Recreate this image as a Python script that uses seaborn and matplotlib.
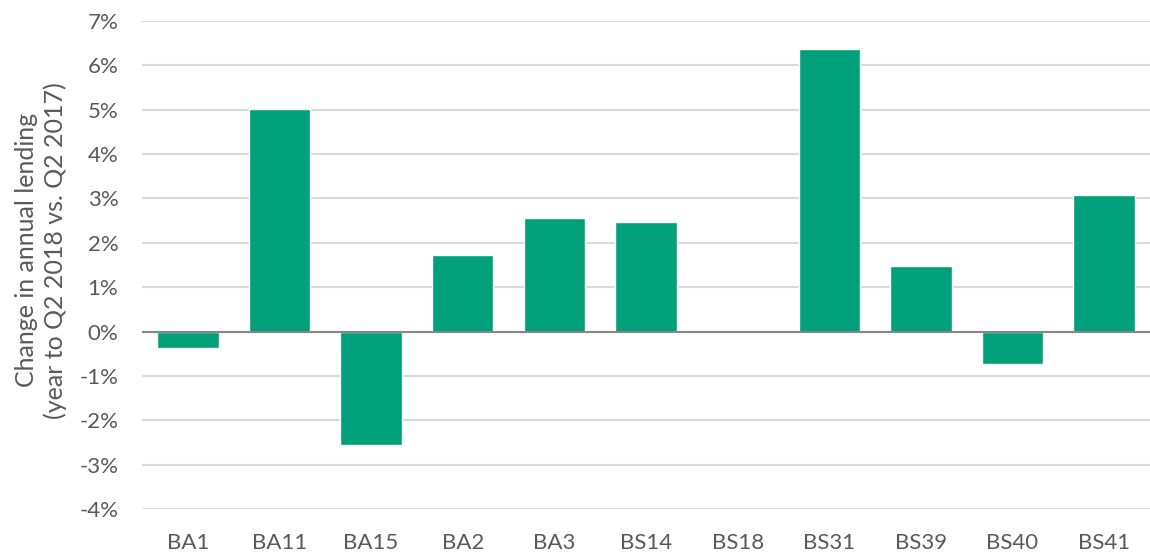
"""
Annual lending change by postcode district
"""
import matplotlib.pyplot as plt
import seaborn as sns
import pandas as pd
from matplotlib.ticker import FuncFormatter

districts = ['BA1', 'BA11', 'BA15', 'BA2', 'BA3', 'BS14', 'BS18', 'BS31', 'BS39', 'BS40', 'BS41']
change_pct = [-0.38, 5.02, -2.56, 1.72, 2.57, 2.48, 0.0, 6.37, 1.47, -0.74, 3.08]
y_ticks = list(range(-4, 8))

df = pd.DataFrame({'district': districts, 'change': change_pct})

sns.set_style('white')
plt.rcParams['font.family'] = ['Lato', 'DejaVu Sans']

fig = plt.figure(figsize=(11.5, 5.54), dpi=100)
ax = fig.add_axes([0.1235, 0.0812, 0.8765, 0.8809])

sns.barplot(data=df, x='district', y='change', color='#00A07A', saturation=1,
            width=0.67, ax=ax, zorder=3)

ax.set_ylim(-4, 7)
ax.set_yticks(y_ticks)
ax.yaxis.set_major_formatter(FuncFormatter(lambda v, p: f'{v:.0f}%'))
ax.grid(True, axis='y', color='#D9D9D9', linewidth=1.5, zorder=0)
ax.axhline(0, color='#868686', linewidth=1.5, zorder=4)

for s in ax.spines.values():
    s.set_visible(False)

ax.tick_params(axis='both', length=0, labelsize=16, labelcolor='#595959', pad=17)
ax.set_xlabel('')
ax.set_ylabel('Change in annual lending\n(year to Q2 2018 vs. Q2 2017)',
              fontsize=18, color='#595959', linespacing=1.3)
ax.yaxis.set_label_coords(-0.074, 0.53)

plt.savefig('out.png', dpi=100)
plt.close()
